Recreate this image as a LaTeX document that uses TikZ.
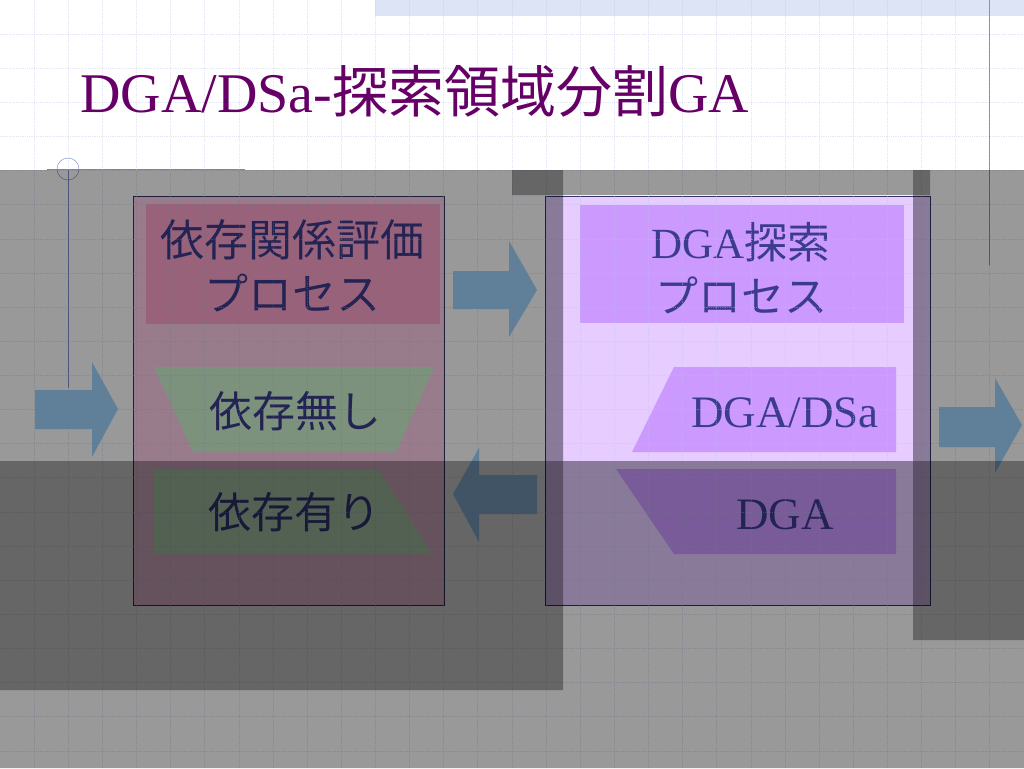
\documentclass[tikz,border=0pt]{standalone}
\usepackage{fontspec}
\setmainfont{Liberation Serif}
\newfontfamily\jpfont{Noto Sans CJK JP}
\newcommand{\jp}[1]{{\jpfont #1}}
\definecolor{titlepurple}{HTML}{660066}
\definecolor{textblue}{HTML}{3C3C8C}
\definecolor{gridblue}{HTML}{B8C2EA}
\definecolor{linkblue}{HTML}{7082C8}
\definecolor{bandblue}{HTML}{DCE4F6}
\definecolor{arrowblue}{HTML}{A0D4FF}
\definecolor{boxpink}{HTML}{FFD0E8}
\definecolor{rosepink}{HTML}{FFA4CE}
\definecolor{mintgreen}{HTML}{D0F4D0}
\definecolor{lavender}{HTML}{E6CCFF}
\definecolor{violet}{HTML}{CC99FF}
\definecolor{frameblue}{HTML}{333366}
\tikzset{
  gridline/.style={gridblue, line width=0.8pt, densely dotted, opacity=0.4},
  boxtext/.style={text=textblue, font=\fontsize{43}{54}\selectfont, align=center, inner sep=0pt},
}
\begin{document}
\begin{tikzpicture}[x=1pt,y=-1pt]
		\useasboundingbox (0,0) rectangle (1024,768);
		\fill [white] (0,0) rectangle (1024,768);
		\fill [bandblue] (375,0) rectangle (1024,16);
		% frame lines of the slide
		\draw [thin, linkblue] (989,0)--(989,265);
		\draw [thin, linkblue] (47,169)--(245,169);
		\draw [thin, linkblue] (68,169)--(68,388);
		\draw [thin, linkblue] (68,169) circle (11);
		% left box
		\fill [boxpink] (133,196) rectangle (444,605);
		\draw [thin, frameblue] (133,196) rectangle (444,605);
		\fill [rosepink] (146,204) rectangle (440,324);
		\fill [mintgreen] (154,367)--(434,367)--(396,452)--(193,452)--cycle;
		\fill [mintgreen] (154,470)--(379,470)--(432,554)--(154,554)--cycle;
		% right box
		\fill [lavender] (545,196) rectangle (930,605);
		\draw [thin, frameblue] (545,196) rectangle (930,605);
		\fill [violet] (580,205) rectangle (904,323);
		\fill [violet] (674,367)--(896,367)--(896,452)--(632,452)--cycle;
		\fill [violet] (616,469)--(896,469)--(896,554)--(674,554)--cycle;
		% block arrows
		\fill [arrowblue] (35,390)--(92,390)--(92,362)--(118,409)--(92,457)--(92,429)--(35,429)--cycle;
		\fill [arrowblue] (453,271)--(509,271)--(509,241)--(537,290)--(509,337)--(509,309)--(453,309)--cycle;
		\fill [arrowblue] (537,475)--(479,475)--(479,448)--(453,494)--(479,542)--(479,514)--(537,514)--cycle;
		\fill [arrowblue] (939,407)--(995,407)--(995,378)--(1022,425)--(995,473)--(995,447)--(939,447)--cycle;
		% texts
		\node [boxtext, font=\fontsize{44}{54}\selectfont] (evalproc) at (292,266) {\jp{依存関係評価}\\\jp{プロセス}};
		\node [boxtext] (indep) at (295,411) {\jp{依存無し}};
		\node [boxtext] (dep) at (294,512) {\jp{依存有り}};
		\node [boxtext] (searchproc) at (741,268) {DGA\jp{探索}\\\jp{プロセス}};
		\node [boxtext, font=\fontsize{45}{54}\selectfont, anchor=base] (dgadsa) at (785,427) {DGA/DSa};
		\node [boxtext, font=\fontsize{45}{54}\selectfont, anchor=base] (dga) at (785,529) {DGA};
		% grid
		\foreach \i in {1,...,29}
			\draw [gridline] (\i*34.133,0)--(\i*34.133,768);
		\foreach \j in {1,...,22}
			\draw [gridline] (0,\j*34.133)--(1024,\j*34.133);
		% dimming
		\fill [black, opacity=0.4, even odd rule] (0,170) rectangle (1024,768) (563,195) rectangle (913,461);
		\fill [black, opacity=0.333] (0,461) rectangle (563,690) (913,461) rectangle (1024,640)
			(512,170) rectangle (563,195) (913,170) rectangle (930,195);
		% title
		\node [anchor=base west, inner sep=0pt, text=titlepurple, font=\fontsize{56}{60}\selectfont] (title) at (80,112) {DGA/DSa-\jp{探索領域分割}GA};
\end{tikzpicture}
\end{document}
